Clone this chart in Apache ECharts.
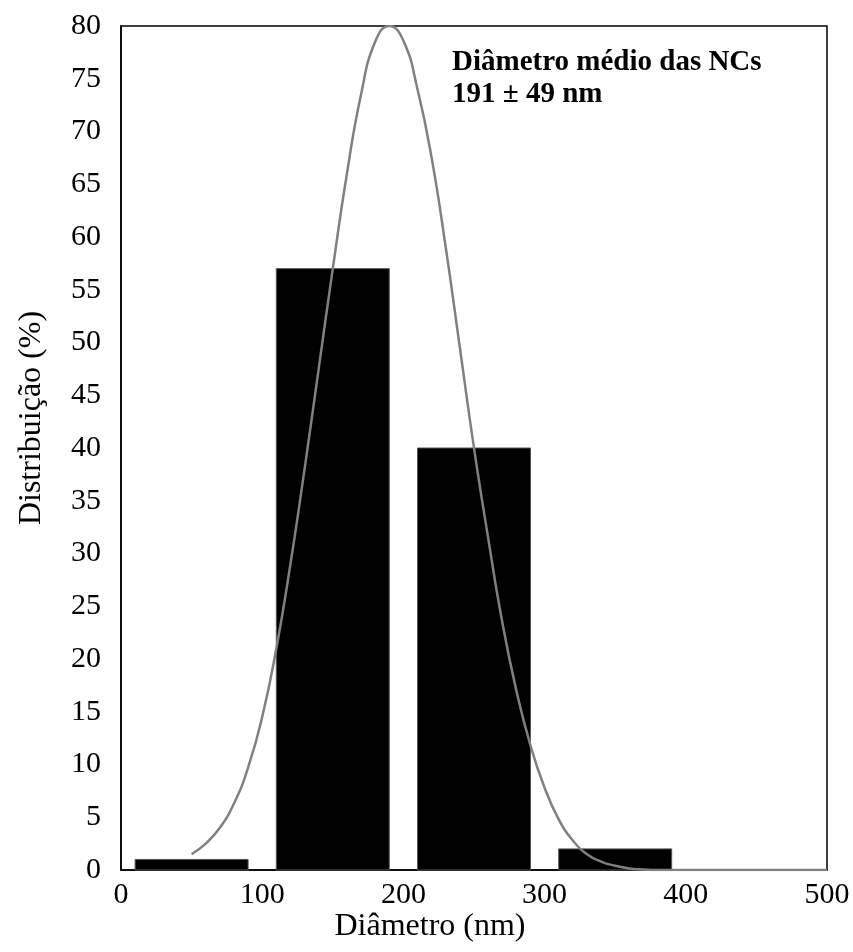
<!DOCTYPE html>
<html>
<head>
<meta charset="utf-8">
<script src="https://cdn.jsdelivr.net/npm/echarts@6/dist/echarts.min.js"></script>
<style>html,body{margin:0;padding:0;background:#fff;}#c{width:853px;height:952px;}</style>
</head>
<body>
<div id="c"></div>
<script>
// Histogram bins (nm) and distribution (%)
var binStart = [10, 110, 210, 310];
var binEnd = [90, 190, 290, 390];
var binValues = [1, 57, 40, 2];
// Fitted curve
var curveX = [50, 60, 70, 80, 90, 100, 110, 120, 130, 140, 150, 160, 170, 180, 190, 200, 210, 220, 230, 240, 250, 260, 270, 280, 290, 300, 310, 320, 330, 340, 350, 360, 370, 380, 400, 450, 500];
var curveY = [1.5, 2.5, 4.0, 6.3, 9.7, 14.5, 21, 29, 38, 47.5, 57, 66, 73.5, 78.5, 80, 78.6, 74, 67.5, 59, 49.5, 40, 31.5, 23.5, 17, 11.8, 7.8, 4.8, 2.8, 1.5, 0.8, 0.4, 0.15, 0.05, 0, 0, 0, 0];
var xTicks = [0, 100, 200, 300, 400, 500];
var yTicks = [0, 5, 10, 15, 20, 25, 30, 35, 40, 45, 50, 55, 60, 65, 70, 75, 80];
var xTitle = 'Diâmetro (nm)';
var yTitle = 'Distribuição (%)';
var noteLines = ['Diâmetro médio das NCs', '191 ± 49 nm'];

var FONT = '"Liberation Serif", "DejaVu Serif", serif';
var chart = echarts.init(document.getElementById('c'), null, {renderer: 'canvas'});

var barData = binStart.map(function (s, i) { return [s, binEnd[i], binValues[i]]; });
var lineData = curveX.map(function (x, i) { return [x, curveY[i]]; });

chart.setOption({
  animation: false,
  backgroundColor: '#fff',
  grid: {left: 121, right: 26, top: 26, bottom: 82, show: true, borderColor: '#000', borderWidth: 1.5, backgroundColor: 'transparent'},
  xAxis: {
    type: 'value', min: xTicks[0], max: xTicks[xTicks.length - 1], interval: 100,
    axisLine: {show: true, lineStyle: {color: '#000', width: 1.5}},
    axisTick: {show: false}, splitLine: {show: false},
    axisLabel: {color: '#000', fontFamily: FONT, fontSize: 30, margin: 10}
  },
  yAxis: {
    type: 'value', min: yTicks[0], max: yTicks[yTicks.length - 1], interval: 5,
    axisLine: {show: true, lineStyle: {color: '#000', width: 1.5}},
    axisTick: {show: false}, splitLine: {show: false},
    axisLabel: {color: '#000', fontFamily: FONT, fontSize: 30, margin: 20}
  },
  series: [
    {
      type: 'custom',
      data: barData,
      encode: {x: [0, 1], y: 2},
      renderItem: function (params, api) {
        var p0 = api.coord([api.value(0), 0]);
        var p1 = api.coord([api.value(1), api.value(2)]);
        return {
          type: 'rect',
          shape: {x: p0[0], y: p1[1], width: p1[0] - p0[0], height: p0[1] - p1[1]},
          style: {fill: '#000', stroke: '#555', lineWidth: 1}
        };
      },
      z: 2
    },
    {
      type: 'line',
      data: lineData,
      smooth: 0.5,
      showSymbol: false,
      symbol: 'none',
      lineStyle: {color: '#808080', width: 2.5},
      z: 3
    }
  ],
  graphic: [
    {type: 'text', left: 452, top: 48, style: {text: noteLines[0], font: 'bold 29px ' + FONT, fill: '#000'}},
    {type: 'text', left: 452, top: 80, style: {text: noteLines[1], font: 'bold 29px ' + FONT, fill: '#000'}},
    {type: 'text', x: 430, y: 927, style: {text: xTitle, font: '32px ' + FONT, fill: '#000', align: 'center', verticalAlign: 'middle'}},
    {type: 'text', x: 32, y: 418, rotation: Math.PI / 2, style: {text: yTitle, font: '32px ' + FONT, fill: '#000', align: 'center', verticalAlign: 'middle'}}
  ]
});
</script>
</body>
</html>
